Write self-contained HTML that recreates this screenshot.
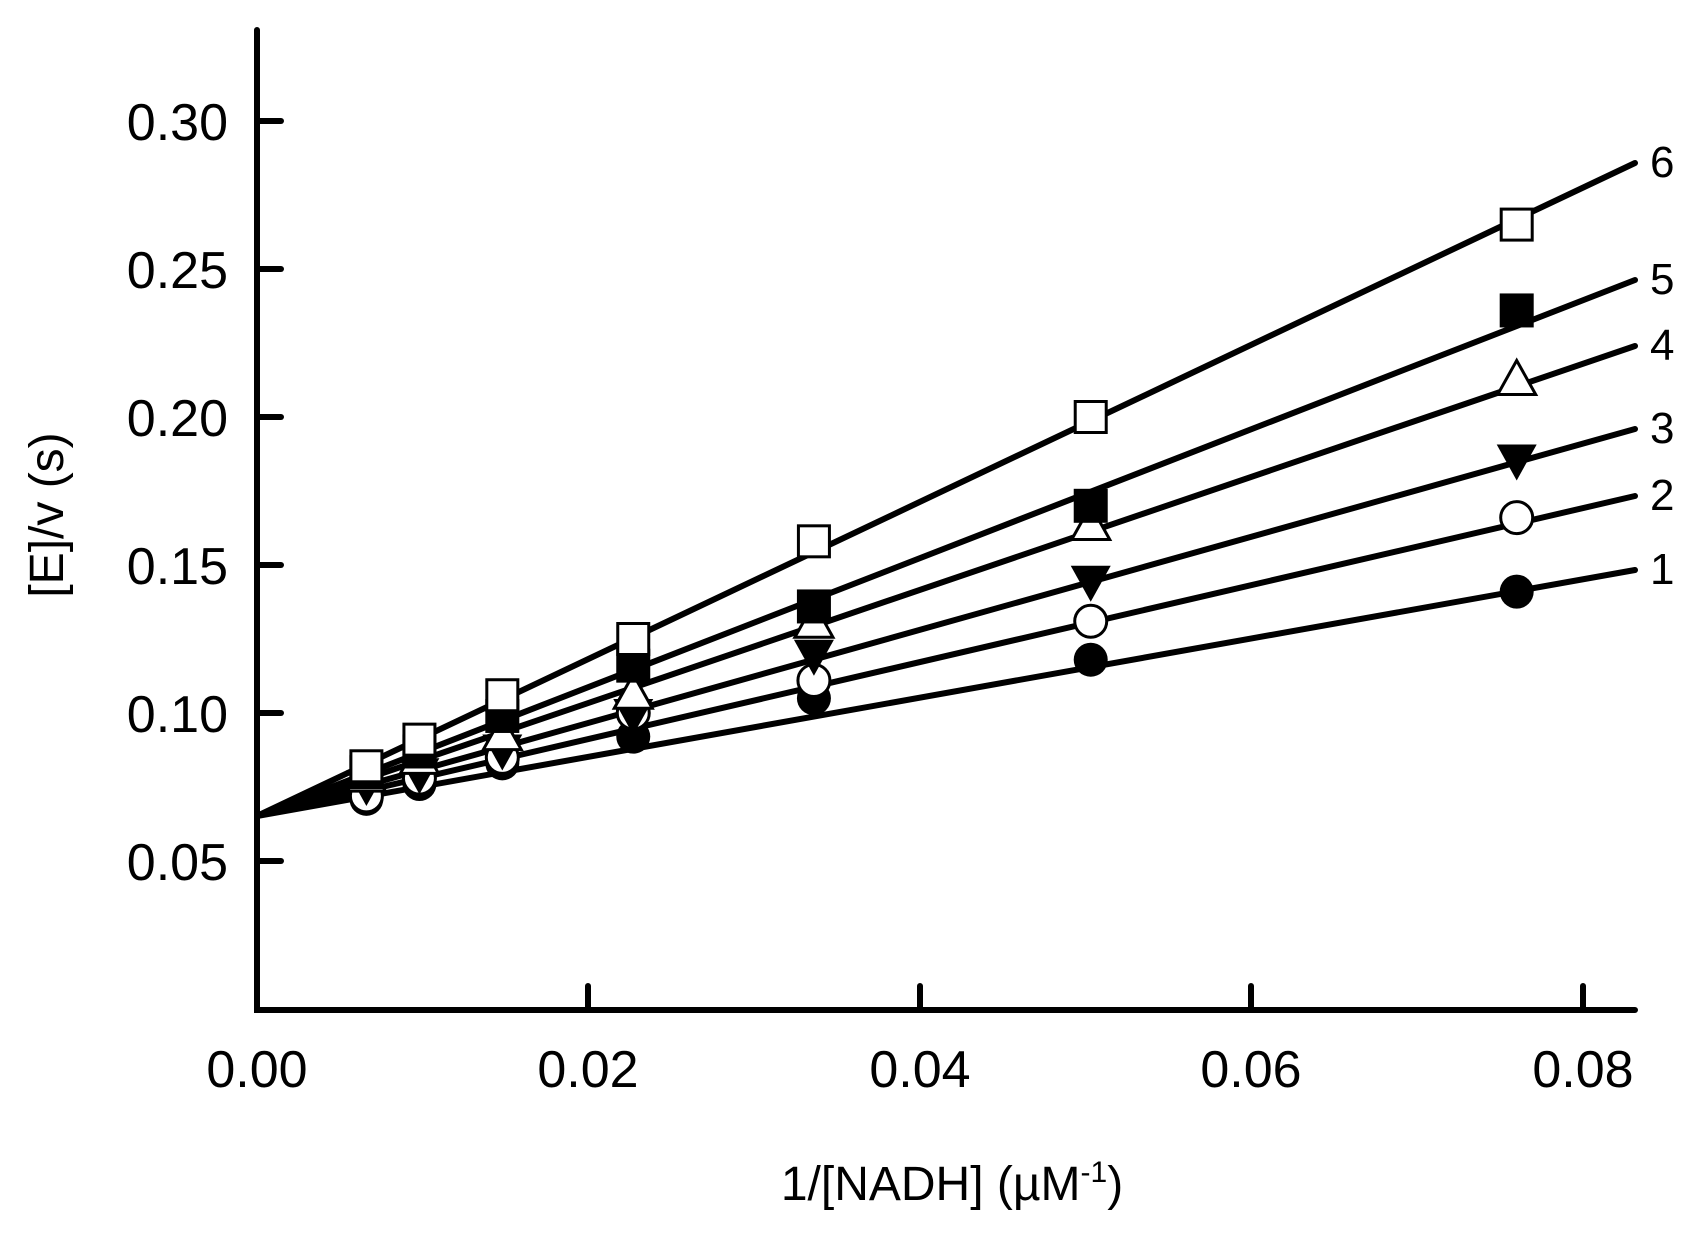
<!DOCTYPE html>
<html><head><meta charset="utf-8"><style>
html,body{margin:0;padding:0;background:#fff}
svg{display:block}
text{font-family:"Liberation Sans",Arial,sans-serif;fill:#000}
</style></head><body>
<svg id="s" width="1708" height="1239" viewBox="0 0 1708 1239" xmlns="http://www.w3.org/2000/svg">
<g stroke="#000" stroke-width="6" stroke-linecap="round" fill="none">
<polyline points="257,30 257,1010 1635,1010"/>
<line x1="257" y1="121" x2="281" y2="121"/>
<line x1="257" y1="269" x2="281" y2="269"/>
<line x1="257" y1="417" x2="281" y2="417"/>
<line x1="257" y1="565" x2="281" y2="565"/>
<line x1="257" y1="713" x2="281" y2="713"/>
<line x1="257" y1="861" x2="281" y2="861"/>
<line x1="588" y1="1010" x2="588" y2="986"/>
<line x1="920" y1="1010" x2="920" y2="986"/>
<line x1="1251" y1="1010" x2="1251" y2="986"/>
<line x1="1583" y1="1010" x2="1583" y2="986"/>
</g>
<g font-size="52" text-anchor="end">
<text x="228" y="140">0.30</text>
<text x="228" y="288">0.25</text>
<text x="228" y="436">0.20</text>
<text x="228" y="584">0.15</text>
<text x="228" y="732">0.10</text>
<text x="228" y="880">0.05</text>
</g>
<g font-size="52" text-anchor="middle">
<text x="257" y="1087">0.00</text>
<text x="588" y="1087">0.02</text>
<text x="920" y="1087">0.04</text>
<text x="1251" y="1087">0.06</text>
<text x="1583" y="1087">0.08</text>
</g>
<text x="952" y="1200" font-size="48" text-anchor="middle">1/[NADH] (µM<tspan font-size="30" dy="-18">-1</tspan><tspan dy="18">)</tspan></text>
<text transform="translate(63,515) rotate(-90)" font-size="48" text-anchor="middle">[E]/v (s)</text>
<g font-size="44">
<text x="1650" y="177">6</text>
<text x="1650" y="294">5</text>
<text x="1650" y="360">4</text>
<text x="1650" y="443">3</text>
<text x="1650" y="510">2</text>
<text x="1650" y="584">1</text>
</g>
<g id="d"></g>
</svg>
<script>
var X=function(v){return 257+v*16575}, Y=function(v){return 121+(0.30-v)*2960};
var xs=[0.0066,0.0098,0.0148,0.0227,0.0336,0.0503,0.0760];
var S=[
 {e:570,t:'fc',y:[0.071,0.076,0.083,0.092,0.105,0.118,0.141]},
 {e:496,t:'oc',y:[0.072,0.078,0.085,0.100,0.111,0.131,0.166]},
 {e:429,t:'dt',y:[0.076,0.080,0.088,0.100,0.120,0.145,0.186]},
 {e:346,t:'ut',y:[0.078,0.084,0.092,0.106,0.130,0.163,0.212]},
 {e:280,t:'fs',y:[0.080,0.087,0.099,0.116,0.136,0.170,0.236]},
 {e:163,t:'os',y:[0.082,0.091,0.106,0.125,0.158,0.200,0.265]}];
var h='';
S.forEach(function(s){h+='<line x1="257" y1="816" x2="1635" y2="'+s.e+'" stroke="#000" stroke-width="6" stroke-linecap="round"/>';});
S.forEach(function(s){
 s.y.forEach(function(v,i){var x=X(xs[i]),y=Y(v);
  if(s.t=='fc')h+='<circle cx="'+x+'" cy="'+y+'" r="17" fill="#000"/>';
  if(s.t=='oc')h+='<circle cx="'+x+'" cy="'+y+'" r="16" fill="#fff" stroke="#000" stroke-width="3"/>';
  if(s.t=='fs')h+='<rect x="'+(x-17)+'" y="'+(y-17)+'" width="34" height="34" fill="#000"/>';
  if(s.t=='os')h+='<rect x="'+(x-15.5)+'" y="'+(y-15.5)+'" width="31" height="31" fill="#fff" stroke="#000" stroke-width="3"/>';
  if(s.t=='ut')h+='<polygon points="'+x+','+(y-21)+' '+(x+19)+','+(y+13)+' '+(x-19)+','+(y+13)+'" fill="#fff" stroke="#000" stroke-width="3"/>';
  if(s.t=='dt')h+='<polygon points="'+(x-20)+','+(y-14)+' '+(x+20)+','+(y-14)+' '+x+','+(y+22)+'" fill="#000"/>';
 });
});
document.getElementById('d').innerHTML=h;
</script>
</body></html>
